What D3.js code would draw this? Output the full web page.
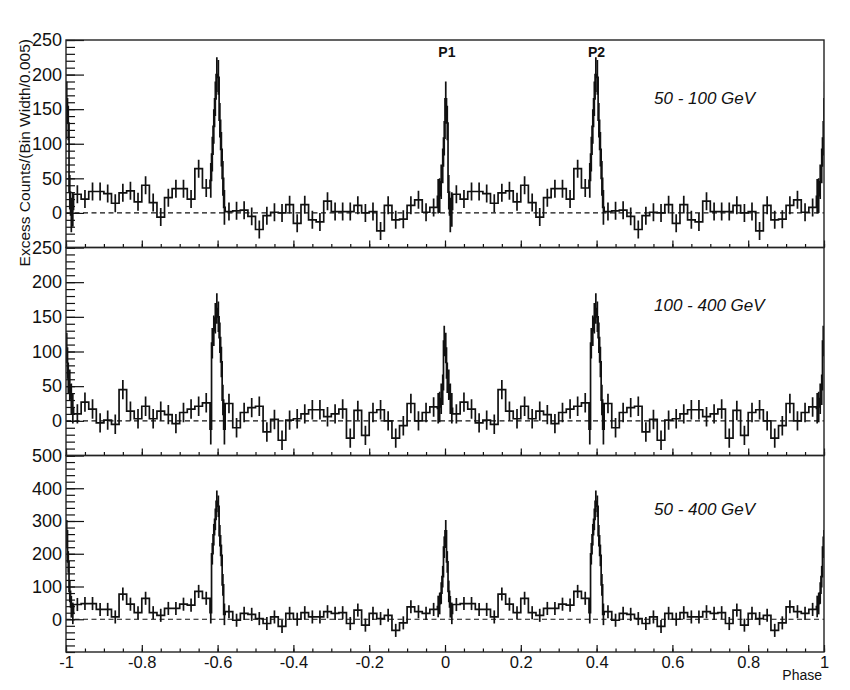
<!DOCTYPE html>
<html>
<head>
<meta charset="utf-8">
<script src="https://cdn.jsdelivr.net/npm/d3@7"></script>
<style>
  html, body { margin: 0; padding: 0; background: #fff; }
  svg { display: block; font-family: "Liberation Sans", Arial, Helvetica, sans-serif; }
</style>
</head>
<body>
<svg id="chart" width="850" height="690"></svg>
<script>
// ---------------- DATA ----------------
// One rotation of the pulsar; the figure shows it twice (phase -1 .. 1).
// Narrow bins (0.004) inside the peak windows, wide bins (0.02) elsewhere.
const p1Window = [-0.02, 0.02];
const bridgeStart = 0.02;
const p2Window = [0.38, 0.42];
const offStart = 0.42;
const narrowBinWidth = 0.004;
const wideBinWidth = 0.02;

const energyBands = ["50 - 100 GeV", "100 - 400 GeV", "50 - 400 GeV"];
const peakLabels = ["P1", "P2"];
const peakLabelPhase = [0.005, 0.4];

// 50 - 100 GeV
const lowP1 = [24, 25, 45, 68, 108, 165, 130, 30, -3, 5];
const lowBridge = [27, 20, 31, 31, 28, 14, 29, 32, 16, 40, 15, -6, 22, 35, 35, 20, 64, 36];
const lowP2 = [47, 85, 125, 165, 200, 196, 134, 92, 50, 8];
const lowOff = [2, 3, 4, -5, -24, -4, 1, 0, 12, -15, 12, -10, -13, 17, 2, 2, 2, 11, 0, 2, -26, 11, -10, -9, 11, 19, 1, 8];

// 100 - 400 GeV
const midP1 = [18, 20, 32, 45, 115, 105, 62, 52, 32, 18];
const midBridge = [10, 27, 17, -3, 1, -5, 45, 14, 3, 21, 3, 14, 9, -4, 12, 17, 21, 26];
const midP2 = [-12, 112, 130, 148, 162, 150, 120, 85, 30, -12];
const midOff = [25, -10, 12, 19, 21, -16, 2, -28, 1, 3, 10, 16, 16, 6, 10, 17, -25, 15, -21, 12, 16, 0, -25, -7, 25, 0, 12, 20];

// 50 - 400 GeV
const allP1 = [39, 48, 80, 130, 220, 270, 175, 85, 38, 18];
const allBridge = [45, 48, 48, 30, 30, 7, 77, 46, 20, 64, 20, 12, 33, 33, 46, 43, 85, 64];
const allP2 = [20, 200, 258, 305, 360, 345, 255, 195, 105, 15];
const allOff = [23, -3, 18, 15, 2, -13, 7, -22, 18, 0, 20, 7, 7, 23, 18, 20, -13, 28, -18, 18, 2, 12, -34, -11, 38, 23, 18, 30];

// statistical error (same units) for wide and narrow bins in each band
const wideErrors = [13, 14, 20];
const narrowErrors = [25, 22, 33];

// axes
const yDomains = [[-50, 250], [-50, 250], [-100, 500]];
const yMajorTicks = [[0, 50, 100, 150, 200, 250], [0, 50, 100, 150, 200, 250], [0, 100, 200, 300, 400, 500]];
const yMinorStep = [10, 10, 20];
const xMajorTicks = [-1, -0.8, -0.6, -0.4, -0.2, 0, 0.2, 0.4, 0.6, 0.8, 1];
const xMinorStep = 0.05;
const yTitle = "Excess Counts/(Bin Width/0.005)";
const xTitle = "Phase";

const panelData = [
  [lowP1, lowBridge, lowP2, lowOff],
  [midP1, midBridge, midP2, midOff],
  [allP1, allBridge, allP2, allOff]
];

// ---------------- LAYOUT ----------------
const svg = d3.select("#chart");
const left = 66, right = 824;
const panelTop = [40, 247.5, 455.5];
const panelBottom = [247.5, 455.5, 652];
const ink = "#111";

const x = d3.scaleLinear().domain([-1, 1]).range([left, right]);

function buildCycle(p1, bridge, p2, off, eN, eW) {
  const bins = [];
  p1.forEach((v, i) => bins.push({ a: p1Window[0] + i * narrowBinWidth, b: p1Window[0] + (i + 1) * narrowBinWidth, v, e: eN }));
  bridge.forEach((v, i) => bins.push({ a: bridgeStart + i * wideBinWidth, b: bridgeStart + (i + 1) * wideBinWidth, v, e: eW }));
  p2.forEach((v, i) => bins.push({ a: p2Window[0] + i * narrowBinWidth, b: p2Window[0] + (i + 1) * narrowBinWidth, v, e: eN }));
  off.forEach((v, i) => bins.push({ a: offStart + i * wideBinWidth, b: offStart + (i + 1) * wideBinWidth, v, e: eW }));
  return bins;
}

panelData.forEach((arrs, k) => {
  const y = d3.scaleLinear().domain(yDomains[k]).range([panelBottom[k], panelTop[k]]);
  const g = svg.append("g");
  const clipId = "clip" + k;
  svg.append("clipPath").attr("id", clipId).append("rect")
    .attr("x", left).attr("y", panelTop[k]).attr("width", right - left).attr("height", panelBottom[k] - panelTop[k]);

  // build two displayed cycles (+ the wrap-around piece)
  const cycle = buildCycle(arrs[0], arrs[1], arrs[2], arrs[3], narrowErrors[k], wideErrors[k]);
  let bins = [];
  [-1, 0, 1].forEach(off => cycle.forEach(d => bins.push({ a: d.a + off, b: d.b + off, v: d.v, e: d.e })));
  bins = bins.filter(d => d.b > -1.0001 && d.a < 1.0001);
  bins.sort((p, q) => p.a - q.a);

  const plot = g.append("g").attr("clip-path", `url(#${clipId})`);

  // zero line
  plot.append("line")
    .attr("x1", left).attr("x2", right).attr("y1", y(0)).attr("y2", y(0))
    .attr("stroke", ink).attr("stroke-width", 1.1).attr("stroke-dasharray", "5,3.5");

  // histogram steps
  let path = "";
  bins.forEach((d, i) => {
    if (i === 0) path += `M${x(d.a)},${y(d.v)}`;
    else path += `V${y(d.v)}`;
    path += `H${x(d.b)}`;
  });
  plot.append("path").attr("d", path).attr("fill", "none")
    .attr("stroke", ink).attr("stroke-width", 1.7).attr("stroke-linejoin", "miter");

  // error bars
  plot.selectAll("line.err").data(bins).enter().append("line")
    .attr("class", "err")
    .attr("x1", d => x((d.a + d.b) / 2)).attr("x2", d => x((d.a + d.b) / 2))
    .attr("y1", d => y(d.v - d.e)).attr("y2", d => y(d.v + d.e))
    .attr("stroke", ink).attr("stroke-width", 1.7);

  // x axis (ticks pointing inward)
  const xg = g.append("g").attr("transform", `translate(0,${panelBottom[k]})`);
  const minor = d3.range(-1, 1.0001, xMinorStep).map(v => +v.toFixed(2));
  xg.call(d3.axisBottom(x).tickValues(minor).tickSize(-3.5).tickFormat(""));
  const xMaj = d3.axisBottom(x).tickValues(xMajorTicks).tickSize(-7).tickPadding(4)
    .tickFormat(k === 2 ? (v => String(+v.toFixed(1))) : "");
  const xg2 = g.append("g").attr("transform", `translate(0,${panelBottom[k]})`).call(xMaj);
  [xg, xg2].forEach(s => {
    s.select(".domain").remove();
    s.selectAll(".tick line").attr("stroke", ink).attr("stroke-width", 1.2);
    s.selectAll("text").attr("fill", ink).attr("font-size", "16.5px")
      .attr("font-family", '"Liberation Sans", Arial, sans-serif');
  });

  // y axis
  const yMinor = d3.range(yDomains[k][0], yDomains[k][1] + 0.001, yMinorStep[k]);
  const yg = g.append("g").attr("transform", `translate(${left},0)`)
    .call(d3.axisLeft(y).tickValues(yMinor).tickSize(-9).tickFormat(""));
  const yg2 = g.append("g").attr("transform", `translate(${left},0)`)
    .call(d3.axisLeft(y).tickValues(yMajorTicks[k]).tickSize(-18).tickPadding(4).tickFormat(d3.format("d")));
  [yg, yg2].forEach(s => {
    s.select(".domain").remove();
    s.selectAll(".tick line").attr("stroke", ink).attr("stroke-width", 1.2);
    s.selectAll("text").attr("fill", ink).attr("font-size", "18px")
      .attr("font-family", '"Liberation Sans", Arial, sans-serif');
  });

  // frame
  g.append("rect").attr("x", left).attr("y", panelTop[k])
    .attr("width", right - left).attr("height", panelBottom[k] - panelTop[k])
    .attr("fill", "none").attr("stroke", "#222").attr("stroke-width", 1.4);

  // energy band label
  const bandY = [103.5, 311, 515][k];
  g.append("text").attr("x", 654).attr("y", bandY)
    .attr("font-size", "17px").attr("font-style", "italic").attr("fill", ink)
    .text(energyBands[k]);
});

// peak labels (top panel)
peakLabels.forEach((t, i) => {
  svg.append("text").attr("x", x(peakLabelPhase[i])).attr("y", 57)
    .attr("text-anchor", "middle").attr("font-size", "14px").attr("font-weight", "bold")
    .attr("fill", ink).text(t);
});

// axis titles
svg.append("text").attr("transform", "translate(30,39) rotate(-90)")
  .attr("text-anchor", "end").attr("font-size", "15.5px").attr("fill", ink).text(yTitle);
svg.append("text").attr("x", 822).attr("y", 680).attr("text-anchor", "end")
  .attr("font-size", "14px").attr("fill", ink).text(xTitle);
</script>
</body>
</html>
